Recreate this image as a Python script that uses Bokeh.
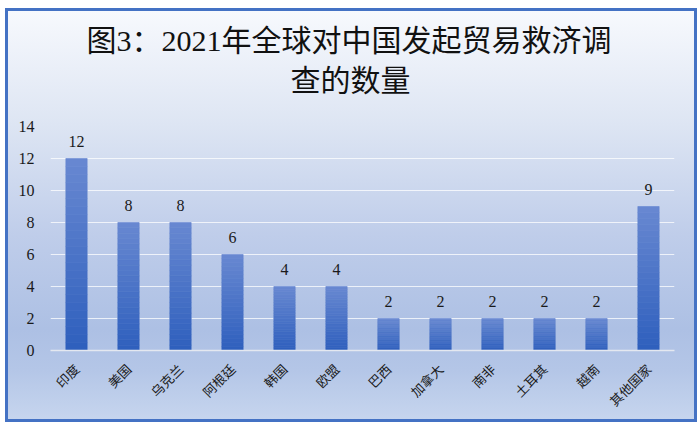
import math
from bokeh.plotting import figure
from bokeh.models import FactorRange, Range1d, Title, ColumnDataSource, FixedTicker
from bokeh.core.properties import value
from bokeh.embed import file_html
from bokeh.resources import INLINE

# ---- data ----
categories = ["印度", "美国", "乌克兰", "阿根廷", "韩国", "欧盟", "巴西",
              "加拿大", "南非", "土耳其", "越南", "其他国家"]
counts = [12, 8, 8, 6, 4, 4, 2, 2, 2, 2, 2, 9]
y_ticks = [0, 2, 4, 6, 8, 10, 12, 14]
title_line1 = "图3：2021年全球对中国发起贸易救济调"
title_line2 = "查的数量"

# ---- figure ----
p = figure(
    x_range=FactorRange(*categories, range_padding=0),
    y_range=Range1d(0, 14),
    width=692, height=414,
    output_backend="svg", toolbar_location=None,
    min_border_left=42, min_border_right=26,
    min_border_top=115, min_border_bottom=75,
)
p.title = None
p.background_fill_alpha = 0
p.border_fill_alpha = 0
p.outline_line_color = None
p.styles = {
    "border": "3px solid #4472c4",
    "margin-left": "5px",
    "margin-top": "8px",
    "background": "linear-gradient(to bottom, #f7f9fd 0%, #dde5f3 28%, #bfcdea 55%, #adc0e4 78%, #b4c6e7 88%, #c6d5ee 100%)",
}

# gradient bars: each bar split into segments, light at top, dark at bottom
N = 24
c_bot = (0x2e, 0x5f, 0xbd)
c_top = (0x68, 0x88, 0xd1)
xs, bots, tops, cols = [], [], [], []
for cat, v in zip(categories, counts):
    for i in range(N):
        t = (i + 0.5) / N
        r = round(c_bot[0] + (c_top[0] - c_bot[0]) * t)
        g = round(c_bot[1] + (c_top[1] - c_bot[1]) * t)
        b = round(c_bot[2] + (c_top[2] - c_bot[2]) * t)
        xs.append(cat)
        bots.append(v * i / N)
        tops.append(v * (i + 1) / N)
        cols.append("#%02x%02x%02x" % (r, g, b))
src = ColumnDataSource(dict(x=xs, bottom=bots, top=tops, color=cols))
p.vbar(x="x", bottom="bottom", top="top", width=0.41, source=src,
       fill_color="color", line_color="color", line_width=0.6)

# value labels
p.text(x=categories, y=counts, text=[str(c) for c in counts],
       text_align="center", text_baseline="bottom", y_offset=-12,
       text_font=value("Liberation Serif"), text_font_size="16px",
       text_color="#1a1a1a")

# axes
p.yaxis.ticker = FixedTicker(ticks=y_ticks)
p.yaxis.axis_line_color = None
p.yaxis.major_tick_line_color = None
p.yaxis.minor_tick_line_color = None
p.yaxis.major_label_standoff = 10
p.yaxis.major_label_text_font = "Liberation Serif"
p.yaxis.major_label_text_font_size = "16px"
p.yaxis.major_label_text_color = "#1a1a1a"

p.xaxis.axis_line_color = "#e4e8f0"
p.xaxis.axis_line_width = 1.5
p.xaxis.major_tick_line_color = None
p.xaxis.minor_tick_line_color = None
p.xaxis.major_label_orientation = math.pi / 4
p.xaxis.major_label_standoff = 10
p.xaxis.major_label_text_font = "Noto Sans CJK SC"
p.xaxis.major_label_text_font_size = "13px"
p.xaxis.major_label_text_color = "#1a1a1a"

p.xgrid.grid_line_color = None
p.ygrid.grid_line_color = "#ffffff"
p.ygrid.grid_line_alpha = 0.75
p.ygrid.grid_line_width = 1.2

# titles (first added sits closest to the plot)
title_font = "'Liberation Serif', 'Noto Sans CJK SC'"
spacer = Title(text=" ", text_font_size="1px", standoff=26)
t2 = Title(text=title_line2, align="left", offset=240, standoff=2,
           text_font=title_font, text_font_size="30px",
           text_font_style="normal", text_color="#111111")
t1 = Title(text=title_line1, align="left", offset=36, standoff=8,
           text_font=title_font, text_font_size="30px",
           text_font_style="normal", text_color="#111111")
p.add_layout(spacer, "above")
p.add_layout(t2, "above")
p.add_layout(t1, "above")

open("out.html", "w").write(file_html(p, INLINE))
